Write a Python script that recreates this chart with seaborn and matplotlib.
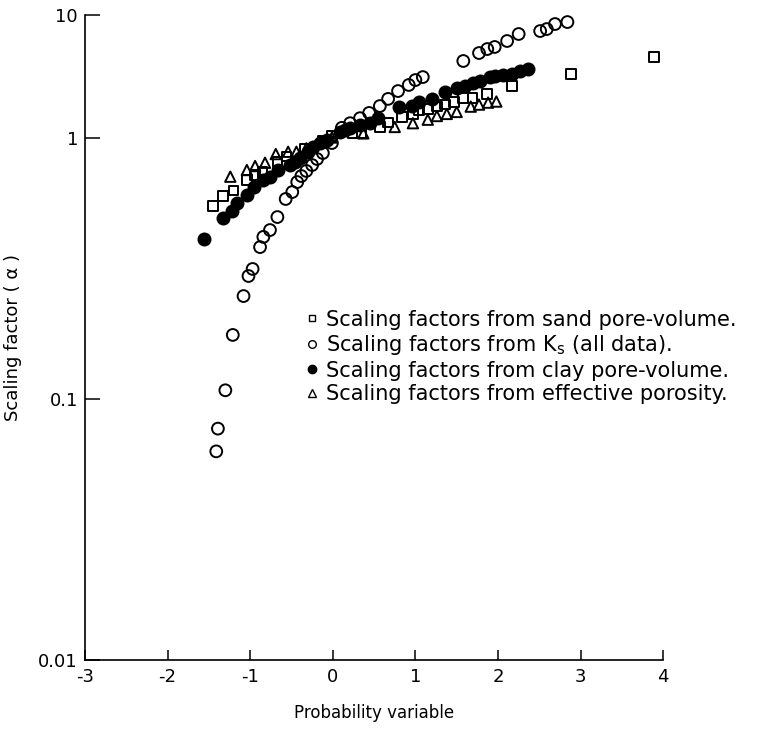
import numpy as np
import matplotlib
matplotlib.use("Agg")
import matplotlib.pyplot as plt
import seaborn as sns
from matplotlib.lines import Line2D

# sand pore-volume (open squares)
sand_x = [-1.45, -1.33, -1.20, -1.04, -0.94, -0.85, -0.67, -0.56, -0.34, -0.12,
          -0.01, 0.24, 0.35, 0.57, 0.67, 0.84, 0.97, 1.04, 1.15, 1.26,
          1.36, 1.47, 1.58, 1.69, 1.87, 2.17, 2.88, 3.89]
sand_a = [0.55, 0.60, 0.63, 0.69, 0.72, 0.74, 0.81, 0.85, 0.91, 0.98,
          1.04, 1.09, 1.10, 1.23, 1.34, 1.48, 1.57, 1.67, 1.72, 1.80,
          1.87, 1.97, 2.11, 2.11, 2.28, 2.65, 3.31, 4.56]

# Ks, all data (open circles)
ks_x = [-1.41, -1.39, -1.30, -1.21, -1.08, -1.02, -0.97, -0.88, -0.84, -0.76,
        -0.67, -0.57, -0.49, -0.43, -0.38, -0.32, -0.25, -0.19, -0.12, -0.01,
        0.11, 0.21, 0.33, 0.44, 0.57, 0.67, 0.79, 0.92, 1.00, 1.09,
        1.58, 1.77, 1.87, 1.96, 2.11, 2.25, 2.51, 2.59, 2.69, 2.84]
ks_a = [0.063, 0.077, 0.108, 0.176, 0.248, 0.296, 0.315, 0.382, 0.418, 0.444,
        0.498, 0.584, 0.621, 0.678, 0.715, 0.748, 0.788, 0.831, 0.876, 0.957,
        1.21, 1.32, 1.45, 1.60, 1.82, 2.08, 2.41, 2.70, 2.96, 3.13,
        4.23, 4.91, 5.29, 5.50, 6.15, 7.01, 7.41, 7.69, 8.45, 8.77]

# clay pore-volume (filled circles)
clay_x = [-1.56, -1.33, -1.22, -1.16, -1.04, -0.95, -0.85, -0.76, -0.66, -0.52,
          -0.46, -0.40, -0.30, -0.24, -0.15, -0.07, 0.09, 0.15, 0.21, 0.33,
          0.45, 0.55, 0.80, 0.96, 1.04, 1.20, 1.36, 1.50, 1.60, 1.70,
          1.78, 1.90, 1.96, 2.06, 2.17, 2.27, 2.36]
clay_a = [0.41, 0.495, 0.527, 0.565, 0.605, 0.651, 0.690, 0.711, 0.757, 0.788,
          0.811, 0.836, 0.886, 0.926, 0.954, 0.98, 1.12, 1.16, 1.20, 1.28,
          1.32, 1.45, 1.80, 1.82, 1.96, 2.08, 2.37, 2.55, 2.65, 2.80,
          2.91, 3.13, 3.19, 3.25, 3.31, 3.51, 3.64]

# effective porosity (open triangles)
poro_x = [-1.24, -1.04, -0.94, -0.82, -0.69, -0.54, -0.44, -0.32, -0.01, 0.37,
          0.75, 0.97, 1.15, 1.26, 1.38, 1.50, 1.67, 1.77, 1.88, 1.98]
poro_a = [0.711, 0.754, 0.781, 0.804, 0.868, 0.886, 0.886, 0.913, 1.01, 1.09,
          1.23, 1.32, 1.41, 1.51, 1.57, 1.63, 1.80, 1.87, 1.94, 1.98]

y_ticks = [0.01, 0.1, 1, 10]
y_tick_labels = ["0.01", "0.1", "1", "10"]
x_ticks = [-3, -2, -1, 0, 1, 2, 3, 4]

labels = [
    "Scaling factors from sand pore-volume.",
    "Scaling factors from K$_\\mathregular{s}$ (all data).",
    "Scaling factors from clay pore-volume.",
    "Scaling factors from effective porosity.",
]

# in the original figure the 1-10 decade is drawn shorter than the others
TOP = 123 / 261


def fwd(y):
    l = np.log10(np.clip(y, 1e-12, None))
    return np.where(l > 0, l * TOP, l)


def inv(t):
    return np.where(t > 0, 10 ** (t / TOP), 10 ** t)


def grafico():
    sns.set_theme(style="ticks")
    plt.rcParams["font.family"] = ["DejaVu Sans"]
    plt.rcParams["axes.unicode_minus"] = False
    plt.rcParams["text.color"] = "black"
    plt.rcParams["axes.labelcolor"] = "black"
    fig = plt.figure(figsize=(7.58, 7.37), dpi=100)
    ax = fig.add_axes([0.112, 0.1045, 0.763, 0.8751])
    ax.set_yscale("function", functions=(fwd, inv))

    k = dict(edgecolor="black", linewidth=1.4, ax=ax, legend=False, zorder=3)
    sns.scatterplot(x=ks_x, y=ks_a, marker="o", s=72, facecolor="none", **k)
    sns.scatterplot(x=sand_x, y=sand_a, marker="s", s=48, facecolor="none", **k)
    sns.scatterplot(x=poro_x, y=poro_a, marker="^", s=56, facecolor="none", **k)
    sns.scatterplot(x=clay_x, y=clay_a, marker="o", s=75, color="black", **k)

    ax.set_xlim(-3, 4)
    ax.set_ylim(0.01, 10)
    ax.set_xticks(x_ticks)
    ax.set_yticks(y_ticks)
    ax.set_yticklabels(y_tick_labels)
    ax.yaxis.set_minor_locator(matplotlib.ticker.NullLocator())
    ax.xaxis.set_minor_locator(matplotlib.ticker.NullLocator())
    ax.tick_params(axis="y", direction="in", length=11, width=1.1, pad=5,
                   labelsize=13, color="black", labelcolor="black")
    ax.tick_params(axis="x", direction="in", length=7, width=1.1, pad=6,
                   labelsize=13, color="black", labelcolor="black")
    for side in ["left", "bottom"]:
        ax.spines[side].set_linewidth(1.2)
        ax.spines[side].set_color("black")
    sns.despine(ax=ax)

    ax.set_xlabel("Probability variable", fontsize=12, labelpad=13)
    ax.set_ylabel("Scaling factor ( \u03b1 )", fontsize=13, labelpad=12)

    handles = [
        Line2D([], [], ls="", marker="s", ms=5, mfc="none", mec="black", mew=1.0),
        Line2D([], [], ls="", marker="o", ms=5.5, mfc="none", mec="black", mew=1.0),
        Line2D([], [], ls="", marker="o", ms=6, mfc="black", mec="black"),
        Line2D([], [], ls="", marker="^", ms=5.5, mfc="none", mec="black", mew=1.0),
    ]
    ax.legend(handles, labels, loc="upper left", bbox_to_anchor=(0.40, 0.58),
              bbox_transform=fig.transFigure, frameon=False, fontsize=15,
              handlelength=0.8, handletextpad=0.3, labelspacing=0.17,
              borderpad=0, borderaxespad=0)

    fig.savefig("out.png", dpi=100)
    plt.close(fig)


grafico()
